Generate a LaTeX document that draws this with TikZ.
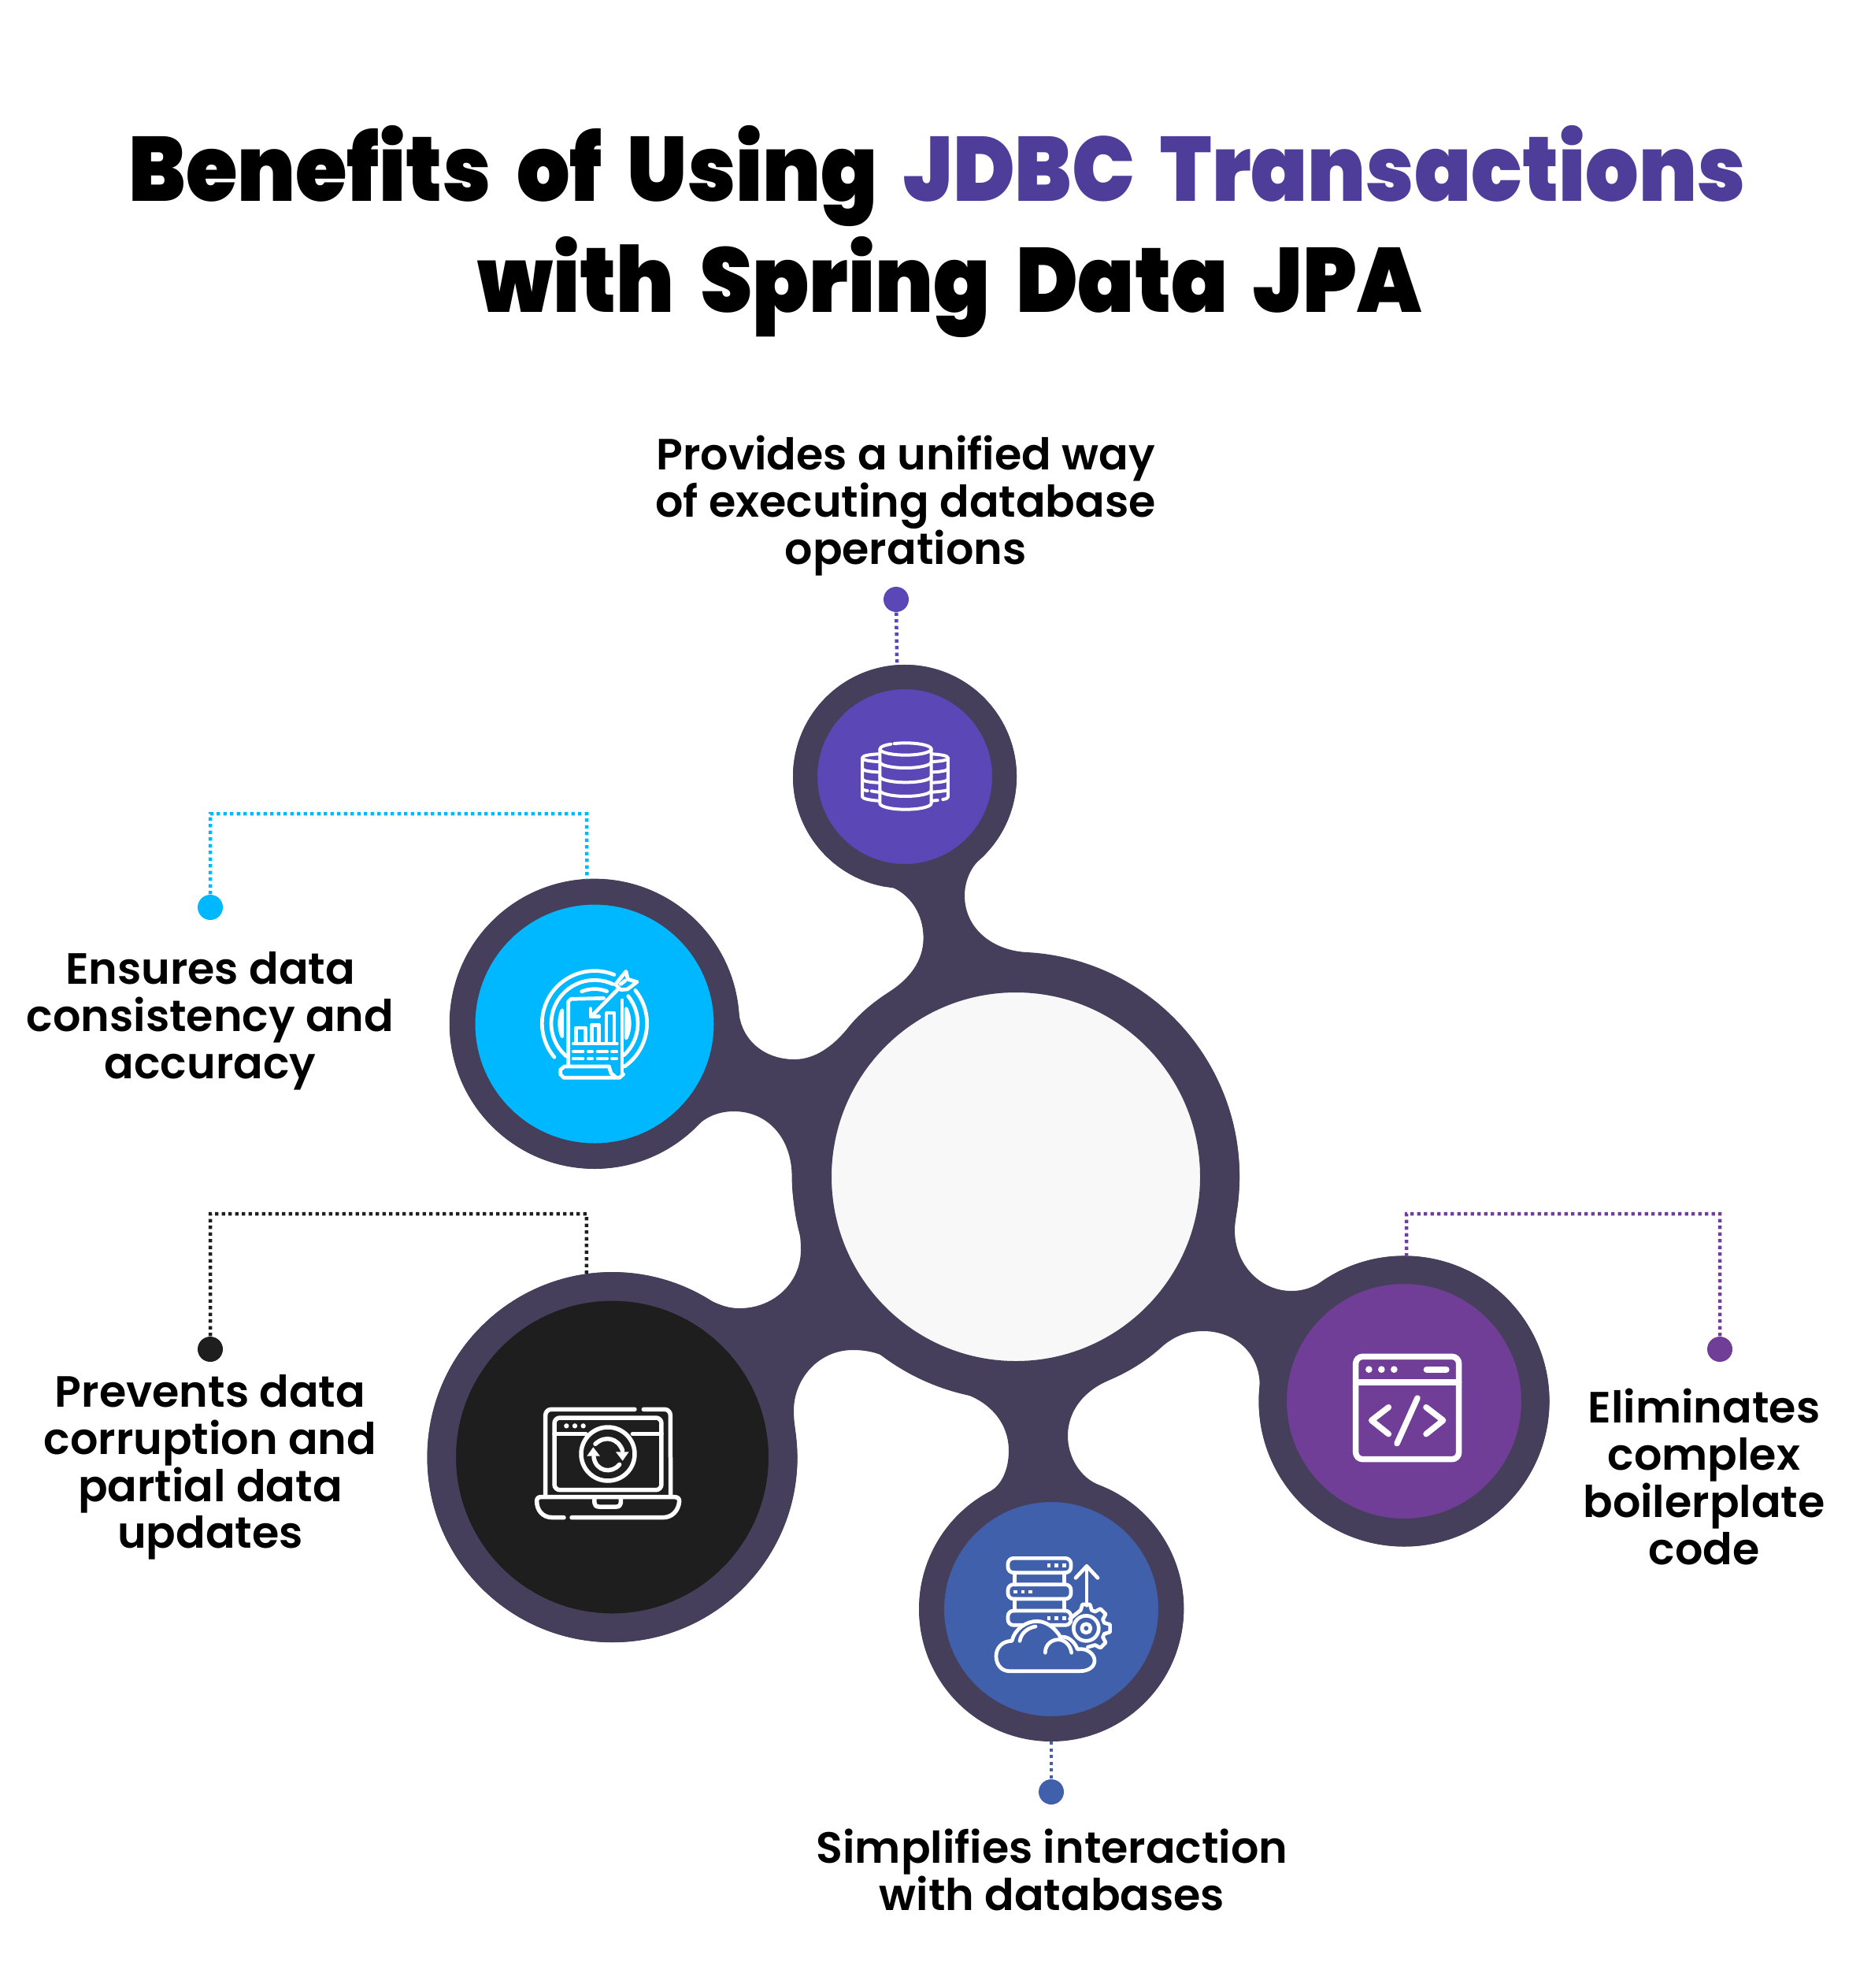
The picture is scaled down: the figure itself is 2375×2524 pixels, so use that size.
\documentclass[tikz,border=0pt]{standalone}
\usepackage{fontspec}
\setmainfont{Poppins}
\newfontfamily\titlefont[WordSpace=1.8]{Poppins Black}
\newfontfamily\labelfont{Poppins SemiBold}
\definecolor{ringcol}{HTML}{463F5C}
\definecolor{titlecol}{HTML}{4F3D9A}
\definecolor{topcol}{HTML}{5B47B5}
\definecolor{skycol}{HTML}{00B8FF}
\definecolor{darkcol}{HTML}{1E1E1E}
\definecolor{plumcol}{HTML}{703E96}
\definecolor{bluecol}{HTML}{4060AB}
\definecolor{hubcol}{HTML}{F8F8F8}

\begin{document}
\begin{tikzpicture}[
                x=0.1mm, y=-0.1mm,
                disc/.style={circle, inner sep=0pt, draw=ringcol},
                titleline/.style={anchor=base, font=\titlefont\fontsize{33}{40}\selectfont},
                benefit/.style={align=center, inner sep=0pt, font=\labelfont\fontsize{15.8}{17}\selectfont},
                leader/.style={line width=0.45mm, dash pattern=on 0.42mm off 0.43mm},
                pin/.style={circle, inner sep=0pt, minimum size=3.2mm},
                iconline/.style={draw=white, line width=0.47mm, line cap=round, line join=round}
            ]

            \useasboundingbox (0,0) rectangle (2375,2524);

            \node[titleline] (titleone) at (1190,256) {\scalebox{0.915}[1]{Benefits of Using \textcolor{titlecol}{JDBC Transactions}}};
            \node[titleline] (titletwo) at (1206,396) {\scalebox{0.915}[1]{with Spring Data JPA}};

            % the body, clockwise from the top disc
            \fill[ringcol]
                (1149,986) ++(99.9:142) arc (99.9:407.9:142)
                .. controls (1232,1102) and (1225,1120) .. (1225,1137)
                .. controls (1225,1180) and (1262,1207) .. (1304,1209)
                arc (-87:9.9:285)
                .. controls (1569,1550) and (1568,1555) .. (1568,1562)
                .. controls (1568,1605) and (1600,1639) .. (1640,1639)
                .. controls (1654,1639) and (1666,1635) .. (1677,1628)
                arc (-125.1:186.2:184.5)
                .. controls (1600,1720) and (1570,1690) .. (1528,1690)
                .. controls (1505,1690) and (1488,1698) .. (1472,1713)
                .. controls (1455,1728) and (1433,1742) .. (1409,1752)
                .. controls (1378,1765) and (1356,1790) .. (1356,1823)
                .. controls (1356,1850) and (1372,1876) .. (1395,1885)
                arc (-69.2:241.4:168)
                .. controls (1272,1887) and (1281,1865) .. (1281,1842)
                .. controls (1281,1805) and (1255,1778) .. (1220,1768)
                .. controls (1190,1760) and (1160,1746) .. (1135,1728)
                .. controls (1118,1718) and (1102,1714) .. (1083,1714)
                .. controls (1040,1714) and (1008,1750) .. (1008,1791)
                .. controls (1008,1810) and (1012.6,1830) .. (1012.6,1851)
                arc (0.2:302.4:235)
                .. controls (915,1657) and (925,1661) .. (939,1661)
                .. controls (983,1661) and (1017,1628) .. (1017,1587)
                .. controls (1017,1572) and (1015,1560) .. (1012.6,1548)
                .. controls (1008,1530) and (1005.6,1512) .. (1005.6,1494)
                .. controls (1005.6,1445) and (975,1411) .. (932,1411)
                .. controls (914,1411) and (898,1417) .. (886,1428.6)
                arc (44.5:355:184)
                .. controls (941,1320) and (970,1345) .. (1009,1345)
                .. controls (1035,1345) and (1058,1328) .. (1076,1306)
                .. controls (1090,1288) and (1108,1273) .. (1128,1260)
                .. controls (1155,1243) and (1172.6,1220) .. (1172.6,1191)
                .. controls (1172.6,1155) and (1150,1130) .. (1125,1124)
                -- cycle;

            \node[disc, fill=hubcol, minimum size=51.8mm, line width=5mm] (hub) at (1290,1494) {};
            \node[disc, fill=topcol, minimum size=25.3mm, line width=3.1mm] (disctop) at (1149,986) {};
            \node[disc, fill=skycol, minimum size=33.55mm, line width=3.25mm] (discsky) at (755,1300) {};
            \node[disc, fill=darkcol, minimum size=43.35mm, line width=3.65mm] (discdark) at (777.5,1850) {};
            \node[disc, fill=plumcol, minimum size=33.35mm, line width=3.55mm] (discplum) at (1783,1779) {};
            \node[disc, fill=bluecol, minimum size=30.4mm, line width=3.2mm] (discblue) at (1335,2043) {};

            \node[pin, fill=topcol] (pintop) at (1138,761) {};
            \node[pin, fill=skycol] (pinsky) at (267,1152) {};
            \node[pin, fill=darkcol] (pindark) at (267,1713) {};
            \node[pin, fill=plumcol] (pinplum) at (2184,1713) {};
            \node[pin, fill=bluecol] (pinblue) at (1335,2275) {};

            \coordinate (bendsky) at (745,1033);
            \coordinate (benddark) at (745,1541);
            \coordinate (bendplum) at (1786,1541);

            \draw[leader, topcol] (pintop) -- (disctop.94.4);
            \draw[leader, skycol] (pinsky) |- (bendsky) -- (discsky.93.1);
            \draw[leader, darkcol] (pindark) |- (benddark) -- (discdark.98);
            \draw[leader, plumcol] (pinplum) |- (bendplum) -- (discplum.89.1);
            \draw[leader, bluecol] (discblue) -- (pinblue);

            \node[benefit] (labeltop) at (1150,642) {Provides a unified way\\of executing database\\operations};
            \node[benefit] (labelsky) at (267,1296) {Ensures data\\consistency and\\accuracy};
            \node[benefit] (labeldark) at (267,1863) {Prevents data\\corruption and\\partial data\\updates};
            \node[benefit] (labelplum) at (2164,1875) {Eliminates\\complex\\boilerplate\\code};
            \node[benefit] (labelblue) at (1336,2374) {Simplifies interaction\\with databases};

            % stacked drums
            \begin{scope}[shift={(1000,840)}, scale=0.3333, iconline/.append style={line width=0.4mm}]
                \draw[iconline] (450,333) ++(244:98 and 23) arc (244:595:98 and 23);
                \draw[iconline] (352,333) -- (352,540) arc (180:0:98 and 23) -- (548,333);
                \foreach \y in {382,437,490}
                    \draw[iconline] (352,\y) arc (180:0:98 and 23);
                \draw[iconline] (345,352) .. controls (310,354) and (285,358) .. (285,368) -- (285,515) .. controls (285,522) and (315,528) .. (345,530);
                \draw[iconline] (285,368) .. controls (287,376) and (320,380) .. (345,381);
                \draw[iconline] (285,408) .. controls (287,416) and (320,420) .. (345,421);
                \draw[iconline] (285,448) .. controls (287,456) and (320,460) .. (345,461);
                \draw[iconline] (285,488) -- (305,492);
                \draw[iconline] (320,493) -- (345,497);
                \draw[iconline] (552,352) .. controls (585,354) and (612,358) .. (612,368) -- (612,515) .. controls (612,520) and (605,523) .. (592,525);
                \draw[iconline] (612,368) .. controls (610,376) and (580,380) .. (552,381);
                \draw[iconline] (612,408) .. controls (610,416) and (580,420) .. (552,421);
                \draw[iconline] (612,448) .. controls (610,456) and (580,460) .. (552,461);
                \draw[iconline] (612,488) .. controls (608,492) and (580,495) .. (552,497);
                \draw[iconline] (552,530) -- (572,528);
            \end{scope}

            % target and report
            \begin{scope}[shift={(640,1190)}, scale=0.3333]
                \draw[iconline] (345,328) ++(-68:200) arc (-68:-220:200);
                \draw[iconline] (345,328) ++(-39:200) arc (-39:55:200);
                \draw[iconline] (345,328) ++(-65:165) arc (-65:-229:165);
                \draw[iconline] (345,328) ++(-39:165) arc (-39:47:165);
                \draw[iconline] (345,328) ++(-112:131) arc (-112:-69:131);
                \draw[iconline] (345,328) ++(158:133) arc (158:202:133) -- cycle;
                \draw[iconline] (345,328) ++(-25:133) arc (-25:25:133) -- cycle;
                \draw[iconline] (245,490) -- (245,245) -- (255,235) -- (380,232);
                \draw[iconline] (450,240) -- (450,515);
                \draw[iconline] (400,492) -- (230,492) -- (215,505) -- (215,522) -- (228,535) -- (440,535) -- (455,522);
                \draw[iconline] (400,492) -- (408,518) -- (425,532);
                \draw[iconline] (275,400) -- (275,345) -- (310,345) -- (310,400);
                \draw[iconline] (335,400) -- (335,335) -- (362,335) -- (362,400);
                \draw[iconline] (390,400) -- (390,288) -- (420,288) -- (420,400);
                \draw[iconline] (265,405) -- (430,405);
                \foreach \y in {435,462} {
                    \draw[iconline] (265,\y) -- (300,\y);
                    \draw[iconline] (322,\y) -- (335,\y);
                    \draw[iconline] (357,\y) -- (392,\y);
                    \draw[iconline] (412,\y) -- (428,\y);
                }
                \draw[iconline] (332,302) -- (432,200);
                \draw[iconline] (330,272) -- (330,302) -- (362,302);
                \draw[iconline] (425,180) -- (440,160) -- (465,130) -- (472,160) -- (507,170) -- (470,198) -- (445,200) -- cycle;
                \draw[iconline] (445,178) -- (462,165);
            \end{scope}

            % laptop with sync arrows
            \begin{scope}[shift={(640,1750)}, scale=0.3333, iconline/.append style={line width=0.55mm}]
                \draw[iconline] (158,445) -- (158,140) arc (180:270:22) -- (498,118);
                \draw[iconline] (532,118) -- (612,118) arc (-90:0:22) -- (635,445);
                \draw[iconline, rounded corners=2pt] (192,150) rectangle (600,425);
                \draw[iconline] (192,212) -- (312,212);
                \draw[iconline] (490,212) -- (600,212);
                \foreach \x in {238,270,302}
                    \fill[white] (\x,181) circle (9.5);
                \draw[iconline] (396,288) circle (102);
                \draw[iconline] (348,250) .. controls (385,215) and (435,228) .. (452,275);
                \draw[iconline] (342,300) .. controls (350,355) and (410,365) .. (440,328);
                \fill[white] (316,296) -- (340,262) -- (366,296) -- cycle;
                \fill[white] (426,280) -- (476,280) -- (452,314) -- cycle;
                \draw[iconline] (228,530) -- (185,530) .. controls (145,530) and (125,500) .. (125,468) .. controls (125,458) and (130,452) .. (140,452) -- (650,452) .. controls (662,452) and (668,458) .. (668,468) .. controls (665,505) and (640,530) .. (605,530) -- (258,530);
                \draw[iconline] (345,460) -- (345,475) .. controls (345,484) and (352,489) .. (362,489) -- (428,489) .. controls (438,489) and (445,484) .. (445,475) -- (445,460);
            \end{scope}

            % servers, gear and cloud
            \begin{scope}[shift={(1240,1950)}, scale=0.3333]
                \foreach \y in {85,185,285}
                    \draw[iconline, rounded corners=2pt] (120,\y) rectangle (360,\y+55);
                \foreach \y in {140,240} {
                    \draw[iconline] (145,\y) -- (145,\y+45);
                    \draw[iconline] (335,\y) -- (335,\y+45);
                }
                \foreach \x in {276,305,335} {
                    \fill[white] (\x-7,106) rectangle (\x+7,120);
                    \fill[white] (\x-7,306) rectangle (\x+7,320);
                }
                \foreach \x in {148,177,205}
                    \fill[white] (\x-7,206) rectangle (\x+7,220);
                \draw[iconline] (420,265) -- (420,115);
                \draw[iconline] (378,160) -- (420,115) -- (462,160);
                \draw[iconline] (418,352) circle (48);
                \draw[iconline] (418,352) circle (17);
                \draw[iconline, shift={(418,352)}] (-150:72)
                    \foreach \a in {-90,-45,0,45} { -- ({\a-17}:72) -- ({\a-9}:92) -- ({\a+9}:92) -- ({\a+17}:72) }
                    -- (85:72);
                \draw[iconline, fill=bluecol] (395,515) -- (125,515) .. controls (95,515) and (75,490) .. (75,458) .. controls (75,425) and (100,400) .. (135,400) .. controls (145,355) and (190,325) .. (230,325) .. controls (265,325) and (300,350) .. (320,385) .. controls (350,380) and (375,405) .. (385,432) .. controls (420,425) and (450,450) .. (450,475) .. controls (450,500) and (425,515) .. (395,515) -- cycle;
                \draw[iconline] (165,400) .. controls (170,370) and (195,350) .. (225,345);
                \draw[iconline] (262,445) .. controls (262,415) and (285,395) .. (312,395) .. controls (335,395) and (358,415) .. (362,445);
            \end{scope}

            % code window
            \begin{scope}[shift={(1690,1690)}, scale=0.3333, iconline/.append style={line width=0.75mm}]
                \draw[iconline, rounded corners=2.5pt] (95,97) rectangle (488,488);
                \draw[iconline] (95,195) -- (488,195);
                \foreach \x in {145,193,241}
                    \fill[white] (\x,146) circle (13);
                \draw[iconline, line width=0.8mm] (365,146) -- (440,146);
                \draw[iconline] (220,290) -- (155,340) -- (220,392);
                \draw[iconline] (363,290) -- (428,340) -- (363,392);
                \draw[iconline] (330,255) -- (252,428);
            \end{scope}

        \end{tikzpicture}
\end{document}
